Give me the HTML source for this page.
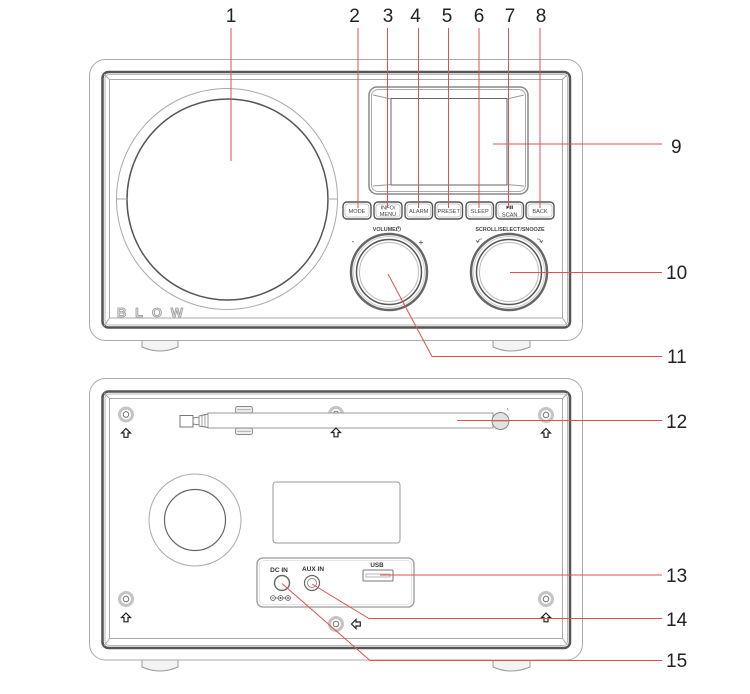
<!DOCTYPE html>
<html><head><meta charset="utf-8"><style>
html,body{margin:0;padding:0;background:#fff;}
svg{display:block;}
text{font-family:"Liberation Sans",sans-serif;}
</style></head><body>
<svg width="750" height="694" viewBox="0 0 750 694" xmlns="http://www.w3.org/2000/svg">
<rect width="750" height="694" fill="#fff"/>

<!-- ============ FRONT VIEW ============ -->
<!-- feet -->
<path d="M142,340 V347 Q160,355 178,347 V340" fill="#f3f3f3" stroke="#999" stroke-width="1"/>
<path d="M493,340 V347 Q511,355 530,347 V340" fill="#f3f3f3" stroke="#999" stroke-width="1"/>
<!-- outer body -->
<rect x="89.5" y="59.5" width="493" height="281" rx="16" fill="#fff" stroke="#aaa" stroke-width="1"/>
<!-- dark frame -->
<rect x="102.5" y="72" width="467.5" height="255.5" rx="6" fill="#fff" stroke="#555" stroke-width="2.5"/>
<rect x="105" y="74.5" width="462.5" height="250.5" rx="4" fill="none" stroke="#bbb" stroke-width="1"/>
<!-- inner panel -->
<rect x="109.5" y="79.5" width="453" height="238.5" fill="none" stroke="#aaa" stroke-width="1"/>
<line x1="104" y1="74" x2="109.5" y2="79.5" stroke="#aaa"/>
<line x1="568" y1="74" x2="562.5" y2="79.5" stroke="#aaa"/>
<line x1="104" y1="326" x2="109.5" y2="318" stroke="#aaa"/>
<line x1="568" y1="326" x2="562.5" y2="318" stroke="#aaa"/>

<!-- speaker -->
<circle cx="227" cy="199" r="110.5" fill="#fff" stroke="#aaa" stroke-width="1"/>
<circle cx="227.5" cy="199.5" r="100.5" fill="#fff" stroke="#555" stroke-width="1.5"/>
<line x1="116.5" y1="199" x2="127" y2="199" stroke="#aaa"/>
<line x1="328" y1="199" x2="337.5" y2="199" stroke="#aaa"/>

<!-- BLOW logo -->
<text x="117" y="317" font-size="13" font-weight="bold" fill="#e4e4e4" stroke="#9a9a9a" stroke-width="0.8" textLength="66" lengthAdjust="spacing">BLOW</text>

<!-- display -->
<rect x="369" y="87" width="159" height="107" rx="8" fill="#fff" stroke="#888" stroke-width="1.5"/>
<rect x="371.5" y="89.5" width="154" height="102" rx="6.5" fill="none" stroke="#aaa" stroke-width="1"/>
<rect x="391" y="98.5" width="116" height="86.5" fill="#fff" stroke="#666" stroke-width="1"/>
<line x1="373" y1="95" x2="391" y2="99" stroke="#999"/>
<line x1="524" y1="95" x2="507" y2="99" stroke="#999"/>
<line x1="373" y1="186" x2="391" y2="184.5" stroke="#999"/>
<line x1="524" y1="186" x2="507" y2="184.5" stroke="#999"/>

<!-- buttons -->
<g fill="#fff" stroke="#555" stroke-width="1.4">
<rect x="343" y="202" width="28" height="17" rx="4"/>
<rect x="374" y="202" width="28" height="17" rx="4"/>
<rect x="405" y="202" width="27.5" height="17" rx="4"/>
<rect x="435" y="202" width="27.5" height="17" rx="4"/>
<rect x="466" y="202" width="27.5" height="17" rx="4"/>
<rect x="496" y="202" width="27.5" height="17" rx="4"/>
<rect x="526" y="202" width="28" height="17" rx="4"/>
</g>
<g fill="none" stroke="#bbb" stroke-width="0.7">
<rect x="345" y="204" width="24" height="13" rx="3"/>
<rect x="376" y="204" width="24" height="13" rx="3"/>
<rect x="407" y="204" width="23.5" height="13" rx="3"/>
<rect x="437" y="204" width="23.5" height="13" rx="3"/>
<rect x="468" y="204" width="23.5" height="13" rx="3"/>
<rect x="498" y="204" width="23.5" height="13" rx="3"/>
<rect x="528" y="204" width="24" height="13" rx="3"/>
</g>
<g font-size="5.6" fill="#444" text-anchor="middle">
<text x="357" y="212.8">MODE</text>
<text x="388" y="209.5">INFO/</text>
<text x="388" y="215.8">MENU</text>
<text x="418.7" y="212.8">ALARM</text>
<text x="448.7" y="212.8">PRESET</text>
<text x="479.7" y="212.8">SLEEP</text>
<text x="509.7" y="216.3">SCAN</text>
<text x="540" y="212.8">BACK</text>
</g>
<path d="M506.5,205.5 L509,207.3 L506.5,209.1 Z" fill="#333"/>
<rect x="509.6" y="205.5" width="1.2" height="3.6" fill="#333"/>
<rect x="511.6" y="205.5" width="1.2" height="3.6" fill="#333"/>

<!-- knob labels -->
<text x="385" y="231" font-size="5.4" fill="#444" text-anchor="middle" font-weight="bold">VOLUME/</text>
<circle cx="398.5" cy="229" r="2.2" fill="none" stroke="#444" stroke-width="0.7"/>
<line x1="398.5" y1="226.2" x2="398.5" y2="229" stroke="#444" stroke-width="0.7"/>
<text x="353" y="244" font-size="8" fill="#333" text-anchor="middle">-</text>
<text x="421" y="245" font-size="8" fill="#333" text-anchor="middle">+</text>
<text x="510" y="231" font-size="5.4" fill="#444" text-anchor="middle" font-weight="bold">SCROLL/SELECT/SNOOZE</text>
<path d="M482,239 Q479,238.5 477.5,242" fill="none" stroke="#555" stroke-width="0.7"/>
<path d="M476,240 L477.5,242.5 L479.5,241" fill="none" stroke="#555" stroke-width="0.7"/>
<path d="M537,239 Q540,238.5 541.5,242" fill="none" stroke="#555" stroke-width="0.7"/>
<path d="M543,240 L541.5,242.5 L539.5,241" fill="none" stroke="#555" stroke-width="0.7"/>

<!-- knobs -->
<circle cx="389" cy="272" r="38" fill="#fff" stroke="#666" stroke-width="2.5"/>
<circle cx="389" cy="272" r="35.5" fill="none" stroke="#ccc" stroke-width="1"/>
<circle cx="389" cy="272" r="32.5" fill="none" stroke="#555" stroke-width="1.5"/>
<circle cx="389" cy="272" r="29.5" fill="none" stroke="#bbb" stroke-width="1"/>
<circle cx="509" cy="272" r="38" fill="#fff" stroke="#666" stroke-width="2.5"/>
<circle cx="509" cy="272" r="35.5" fill="none" stroke="#ccc" stroke-width="1"/>
<circle cx="509" cy="272" r="32.5" fill="none" stroke="#555" stroke-width="1.5"/>
<circle cx="509" cy="272" r="29.5" fill="none" stroke="#bbb" stroke-width="1"/>

<!-- ============ BACK VIEW ============ -->
<path d="M142,660 V667 Q160,675 178,667 V660" fill="#f3f3f3" stroke="#999" stroke-width="1"/>
<path d="M493,660 V667 Q511,675 530,667 V660" fill="#f3f3f3" stroke="#999" stroke-width="1"/>
<rect x="89.5" y="378.5" width="493" height="281.5" rx="16" fill="#fff" stroke="#aaa" stroke-width="1"/>
<rect x="102.5" y="391.5" width="467.5" height="256.5" rx="6" fill="#fff" stroke="#555" stroke-width="2.5"/>
<rect x="105" y="394" width="462.5" height="251.5" rx="4" fill="none" stroke="#bbb" stroke-width="1"/>
<rect x="109.5" y="398.5" width="453" height="240" fill="none" stroke="#aaa" stroke-width="1"/>
<line x1="104" y1="393" x2="109.5" y2="398.5" stroke="#aaa"/>
<line x1="568" y1="393" x2="562.5" y2="398.5" stroke="#aaa"/>
<line x1="104" y1="646" x2="109.5" y2="638.5" stroke="#aaa"/>
<line x1="568" y1="646" x2="562.5" y2="638.5" stroke="#aaa"/>

<!-- screws -->
<g fill="#fff">
<circle cx="126" cy="414.5" r="6.5" stroke="#c4c4c4" stroke-width="3"/>
<circle cx="126" cy="414.5" r="2.8" stroke="#666" stroke-width="0.9"/>
<circle cx="546" cy="415" r="6.5" stroke="#c4c4c4" stroke-width="3"/>
<circle cx="546" cy="415" r="2.8" stroke="#666" stroke-width="0.9"/>
<circle cx="336" cy="414" r="6.5" stroke="#c4c4c4" stroke-width="3"/>
<circle cx="336" cy="414" r="2.8" stroke="#666" stroke-width="0.9"/>
<circle cx="126" cy="599" r="6.5" stroke="#c4c4c4" stroke-width="3"/>
<circle cx="126" cy="599" r="2.8" stroke="#666" stroke-width="0.9"/>
<circle cx="546" cy="599" r="6.5" stroke="#c4c4c4" stroke-width="3"/>
<circle cx="546" cy="599" r="2.8" stroke="#666" stroke-width="0.9"/>
<circle cx="336" cy="624" r="6.5" stroke="#c4c4c4" stroke-width="3"/>
<circle cx="336" cy="624" r="2.8" stroke="#666" stroke-width="0.9"/>
</g>

<!-- antenna -->
<rect x="208" y="413" width="285" height="15" fill="#fff" stroke="#999" stroke-width="1"/>
<rect x="180" y="415.5" width="13" height="11.5" fill="#fff" stroke="#777" stroke-width="1"/>
<path d="M193,418 L199,417 L199,425 L193,424 Z M199,416 L208,414 M199,426 L208,427.5" fill="none" stroke="#777" stroke-width="0.9"/>
<line x1="202" y1="416" x2="202" y2="426" stroke="#888" stroke-width="0.8"/>
<line x1="205" y1="415" x2="205" y2="427" stroke="#888" stroke-width="0.8"/>
<rect x="235.5" y="406.5" width="17" height="6.5" rx="2" fill="#eee" stroke="#888" stroke-width="0.9"/>
<line x1="237" y1="409.7" x2="251" y2="409.7" stroke="#999" stroke-width="0.7"/>
<rect x="235.5" y="428" width="17" height="6.5" rx="2" fill="#eee" stroke="#888" stroke-width="0.9"/>
<line x1="237" y1="431.3" x2="251" y2="431.3" stroke="#999" stroke-width="0.7"/>
<circle cx="500.5" cy="421" r="8.5" fill="#e2e2e2" stroke="#888" stroke-width="1"/>
<line x1="492" y1="421" x2="509" y2="421" stroke="#888" stroke-width="0.8"/>
<line x1="507.5" y1="408" x2="508.2" y2="410.5" stroke="#888" stroke-width="0.8"/>

<!-- arrows -->
<g fill="#fff" stroke="#222" stroke-width="1.2" stroke-linejoin="miter">
<path d="M126,428.5 l4.5,4.5 h-2.5 v4.3 h-4 v-4.3 h-2.5 z"/>
<path d="M546,428.5 l4.5,4.5 h-2.5 v4.3 h-4 v-4.3 h-2.5 z"/>
<path d="M336,428 l4.5,4.5 h-2.5 v4.3 h-4 v-4.3 h-2.5 z"/>
<path d="M126,613 l4.5,4.5 h-2.5 v4.3 h-4 v-4.3 h-2.5 z"/>
<path d="M546,613 l4.5,4.5 h-2.5 v4.3 h-4 v-4.3 h-2.5 z"/>
<path d="M351.5,624 l4.5,-4.5 v2.5 h4.3 v4 h-4.3 v2.5 z"/>
</g>

<!-- back speaker -->
<circle cx="195" cy="520" r="46" fill="#fff" stroke="#aaa" stroke-width="1"/>
<circle cx="195" cy="520" r="30.5" fill="#fff" stroke="#666" stroke-width="1.2"/>

<!-- back display cutout -->
<rect x="273" y="482" width="127" height="61" rx="3" fill="#fff" stroke="#999" stroke-width="1"/>

<!-- connector panel -->
<rect x="257" y="558" width="157" height="49" rx="6" fill="#fff" stroke="#999" stroke-width="1.3"/>
<rect x="259.5" y="560.5" width="152" height="44" rx="4.5" fill="none" stroke="#ddd" stroke-width="0.8"/>
<text x="279" y="572" font-size="6.5" font-weight="bold" fill="#333" text-anchor="middle">DC IN</text>
<text x="313" y="571" font-size="6.5" font-weight="bold" fill="#333" text-anchor="middle">AUX IN</text>
<text x="377" y="567" font-size="6.3" font-weight="bold" fill="#333" text-anchor="middle">USB</text>
<circle cx="282" cy="583" r="7.5" fill="#fff" stroke="#666" stroke-width="1.4"/>
<circle cx="312" cy="583" r="7.5" fill="#fff" stroke="#666" stroke-width="1.2"/>
<circle cx="312" cy="583" r="4.5" fill="none" stroke="#888" stroke-width="0.9"/>
<!-- polarity symbol -->
<g fill="none" stroke="#555" stroke-width="0.8">
<circle cx="273" cy="598" r="2.4"/>
<circle cx="280.5" cy="598" r="2.4"/>
<circle cx="288" cy="598" r="2.4"/>
<line x1="275.4" y1="598" x2="278.1" y2="598"/>
<line x1="282.9" y1="598" x2="285.6" y2="598"/>
<line x1="271.8" y1="598" x2="274.2" y2="598"/>
<line x1="286.8" y1="598" x2="289.2" y2="598"/>
<line x1="288" y1="596.8" x2="288" y2="599.2"/>
</g>
<circle cx="280.5" cy="598" r="1" fill="#555"/>
<!-- USB port -->
<rect x="363" y="570" width="30" height="11" rx="1" fill="#fff" stroke="#777" stroke-width="1"/>
<rect x="366" y="574" width="24" height="3" fill="none" stroke="#999" stroke-width="0.7"/>

<!-- ============ CALLOUT LINES ============ -->
<g stroke="#d9534f" stroke-width="1" fill="none">
<line x1="231" y1="28" x2="231" y2="161"/>
<line x1="358" y1="28" x2="358" y2="208"/>
<line x1="387.5" y1="28" x2="387.5" y2="208"/>
<line x1="418.5" y1="28" x2="418.5" y2="208"/>
<line x1="448.5" y1="28" x2="448.5" y2="208"/>
<line x1="479" y1="28" x2="479" y2="208"/>
<line x1="508.5" y1="28" x2="508.5" y2="208"/>
<line x1="540" y1="28" x2="540" y2="208"/>
<line x1="493" y1="144" x2="662" y2="144"/>
<line x1="510" y1="272.5" x2="662" y2="272.5"/>
<polyline points="388,274 432,356.5 662,356.5"/>
<line x1="457" y1="420.5" x2="662" y2="420.5"/>
<line x1="380" y1="575" x2="662" y2="575"/>
<polyline points="312,584 369,618.5 662,618.5"/>
<polyline points="282,583.5 370,660.5 662,660.5"/>
</g>

<!-- ============ NUMBER LABELS ============ -->
<g font-size="19" fill="#222" text-anchor="middle">
<text x="231" y="22">1</text>
<text x="354.5" y="22">2</text>
<text x="388" y="22">3</text>
<text x="415.5" y="22">4</text>
<text x="447" y="22">5</text>
<text x="479" y="22">6</text>
<text x="510" y="22">7</text>
<text x="541" y="22">8</text>
</g>
<g font-size="19" fill="#222">
<text x="671" y="153">9</text>
<text x="666" y="279">10</text>
<text x="667" y="363">11</text>
<text x="666" y="428">12</text>
<text x="666" y="582">13</text>
<text x="666" y="626">14</text>
<text x="666" y="667">15</text>
</g>
</svg>
</body></html>
